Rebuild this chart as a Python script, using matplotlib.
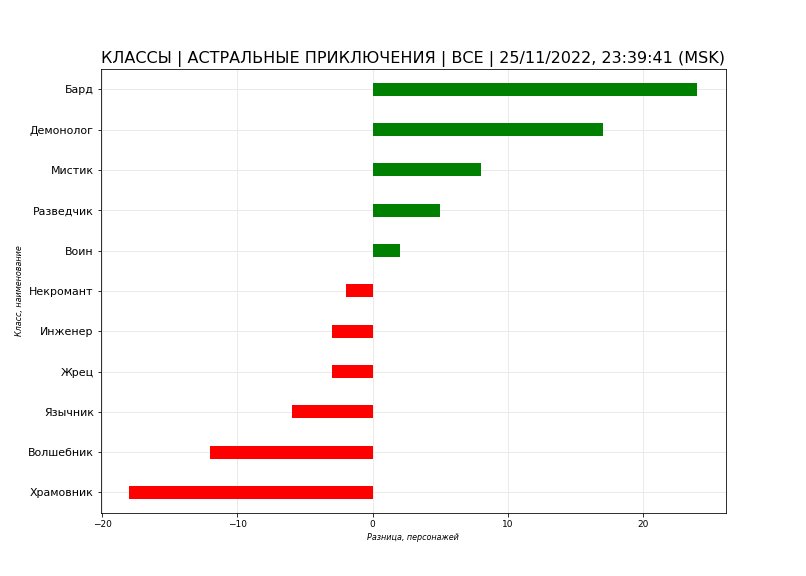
import matplotlib.pyplot as plt
import numpy as np

classes = ["Храмовник", "Волшебник", "Язычник", "Жрец", "Инженер", "Некромант",
           "Воин", "Разведчик", "Мистик", "Демонолог", "Бард"]
diff = [-18, -12, -6, -3, -3, -2, 2, 5, 8, 17, 24]

title = "КЛАССЫ | АСТРАЛЬНЫЕ ПРИКЛЮЧЕНИЯ | ВСЕ | 25/11/2022, 23:39:41 (MSK)"


def main():
    fig, ax = plt.subplots(figsize=(11.2, 8), dpi=72)

    y = np.arange(len(classes))
    colors = ["green" if v > 0 else "red" for v in diff]
    ax.barh(y, diff, height=0.32, color=colors, zorder=3)

    ax.set_yticks(y)
    ax.set_yticklabels(classes, fontsize=11)
    ax.set_ylim(-0.5, len(classes) - 0.5)
    ax.tick_params(axis="x", labelsize=9)

    ax.grid(True, color="#eaeaea", linestyle="-", linewidth=1, zorder=0)
    ax.set_title(title, fontsize=16)
    ax.set_xlabel("Разница, персонажей", fontsize=8, style="italic")
    ax.set_ylabel("Класс, наименование", fontsize=8, style="italic")

    fig.savefig("out.png")


if __name__ == "__main__":
    main()
